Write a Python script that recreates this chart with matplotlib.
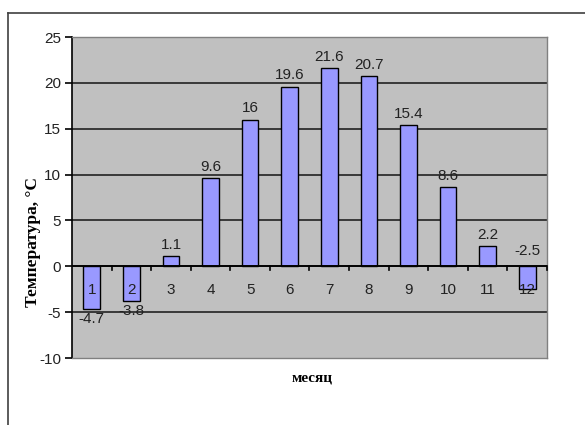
import matplotlib
matplotlib.use("Agg")
import matplotlib.pyplot as plt
from matplotlib.lines import Line2D
import numpy as np

months = ["1", "2", "3", "4", "5", "6", "7", "8", "9", "10", "11", "12"]
temps = [-4.7, -3.8, 1.1, 9.6, 16, 19.6, 21.6, 20.7, 15.4, 8.6, 2.2, -2.5]
label_texts = ["-4.7", "-3.8", "1.1", "9.6", "16", "19.6", "21.6", "20.7", "15.4", "8.6", "2.2", "-2.5"]
yticks = [-10, -5, 0, 5, 10, 15, 20, 25]

plt.rcParams['font.family'] = ['Liberation Sans', 'DejaVu Sans']

fig = plt.figure(figsize=(5.85, 4.25), dpi=100)
fig.patch.set_facecolor('white')
ax = fig.add_axes([72/585, 1-358/425, (547-72)/585, (358-37)/425])
ax.set_facecolor('#c0c0c0')

x = np.arange(1, len(months) + 1)
ax.bar(x, temps, width=0.42, color='#9999ff', edgecolor='black', linewidth=1.0, zorder=3)

ax.set_xlim(0.5, 12.5)
ax.set_ylim(-10, 25)
ax.set_yticks(yticks)
ax.set_yticklabels([str(v) for v in yticks], fontsize=11, color='#222222')
for v in yticks[1:-1]:
    if v != 0:
        ax.axhline(v, color='#222222', linewidth=1.2, zorder=1)

# spines
for s in ['top', 'right', 'bottom']:
    ax.spines[s].set_color('#808080')
    ax.spines[s].set_linewidth(1.0)
ax.spines['left'].set_color('black')
ax.spines['left'].set_linewidth(1.2)
ax.tick_params(axis='y', direction='out', length=5, width=1.2, pad=3)

# x axis at zero
ax.axhline(0, color='black', linewidth=1.4, zorder=4)
ax.set_xticks(x)
ax.set_xticklabels([])
ax.tick_params(axis='x', which='both', length=0)
for xb in np.arange(1.5, 12.6, 1.0):
    ax.plot([xb, xb], [0, -0.45], color='black', linewidth=1.2, zorder=4, clip_on=False)
for xi, m in zip(x, months):
    ax.text(xi, -2.6, m, ha='center', va='center', fontsize=11, color='#222222', zorder=5)

# value labels
for xi, v, t in zip(x, temps, label_texts):
    if v >= 0 or xi == 12:
        base = max(v, 0)
        ax.annotate(t, (xi, base), xytext=(0, 3 if v >= 0 else 6), textcoords='offset points',
                    ha='center', va='bottom', fontsize=11, color='#222222', zorder=5)
    else:
        ax.annotate(t, (xi, v), xytext=(0, -2), textcoords='offset points',
                    ha='center', va='top', fontsize=11, color='#222222', zorder=5)

fig.text(33/585, 1-242/425, 'Температура, °С', rotation=90, ha='center', va='center',
         fontsize=12.5, fontweight='bold', family=['Liberation Serif', 'DejaVu Serif'])
fig.text(312/585, 1-378/425, 'месяц', ha='center', va='center',
         fontsize=11, fontweight='bold', family=['Liberation Serif', 'DejaVu Serif'])

# outer chart frame
fig.add_artist(Line2D([8/585, 1.0], [1-13/425, 1-13/425], color='#404040', linewidth=1.2, transform=fig.transFigure))
fig.add_artist(Line2D([8/585, 8/585], [0, 1-13/425], color='#404040', linewidth=1.2, transform=fig.transFigure))

fig.savefig('out.png', dpi=100)
